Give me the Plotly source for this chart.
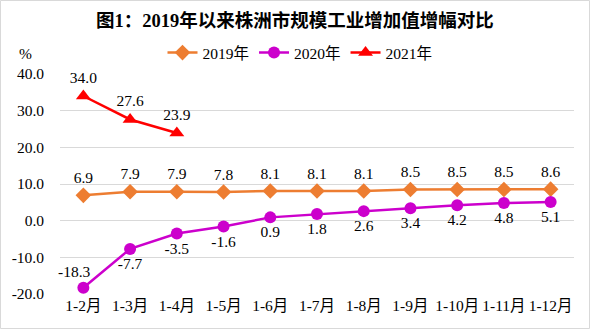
import plotly.graph_objects as go

categories = ["1-2月", "1-3月", "1-4月", "1-5月", "1-6月", "1-7月", "1-8月", "1-9月", "1-10月", "1-11月", "1-12月"]
y2019 = [6.9, 7.9, 7.9, 7.8, 8.1, 8.1, 8.1, 8.5, 8.5, 8.5, 8.6]
y2020 = [-18.3, -7.7, -3.5, -1.6, 0.9, 1.8, 2.6, 3.4, 4.2, 4.8, 5.1]
y2021 = [34.0, 27.6, 23.9]
yticks = [-20, -10, 0, 10, 20, 30, 40]

W, H = 590, 329
ML, MR, MT, MB = 60, 16, 74, 35
pw = W - ML - MR
ph = H - MT - MB

serif = "Liberation Serif, Noto Sans CJK SC, serif"
FS = 15.5
lbl_font = dict(family=serif, size=FS, color="#000000")

fig = go.Figure()
fig.add_trace(go.Scatter(
    x=categories, y=y2019, name="2019年", mode="lines+markers+text",
    line=dict(color="#ED7D31", width=2.5),
    marker=dict(symbol="diamond", size=12, color="#ED7D31"),
    text=[f"{v:.1f}" for v in y2019], textposition="top center",
    textfont=lbl_font, cliponaxis=False))
fig.add_trace(go.Scatter(
    x=categories, y=y2020, name="2020年", mode="lines+markers+text",
    line=dict(color="#CC00CC", width=2.5),
    marker=dict(symbol="circle", size=12, color="#CC00CC"),
    text=[""] + [f"{v:.1f}" for v in y2020[1:]],
    textposition="bottom center",
    textfont=lbl_font, cliponaxis=False))
fig.add_trace(go.Scatter(
    x=categories[:len(y2021)], y=y2021, name="2021年", mode="lines+markers+text",
    line=dict(color="#FF0000", width=2.5),
    marker=dict(symbol="triangle-up", size=13, color="#FF0000"),
    text=[f"{v:.1f}" for v in y2021], textposition="top center",
    textfont=lbl_font, cliponaxis=False))

# first 2020 label sits up-left of its marker
fig.add_annotation(x=categories[0], y=y2020[0], text=f"{y2020[0]:.1f}",
                   showarrow=False, xshift=-9, yshift=16,
                   font=lbl_font)

fig.update_layout(
    width=W, height=H,
    margin=dict(l=ML, r=MR, t=MT, b=MB, autoexpand=False),
    paper_bgcolor="white", plot_bgcolor="white",
    title=dict(text="<b>图1：2019年以来株洲市规模工业增加值增幅对比</b>",
               x=0.5, xanchor="center", y=1 - 21 / H, yanchor="middle",
               font=dict(family=serif, size=18.5, color="#000000")),
    legend=dict(orientation="h", x=(300 - ML) / pw, xanchor="center",
                y=1 + (MT - 53) / ph, yanchor="middle",
                font=dict(family=serif, size=FS, color="#000000"),
                itemwidth=30, tracegroupgap=0, bgcolor="rgba(0,0,0,0)"),
    xaxis=dict(type="category", showgrid=False, showline=False, ticks="",
               tickfont=dict(family=serif, size=FS, color="#000000"),
               range=[-0.5, len(categories) - 0.5]),
    yaxis=dict(range=[-20, 40], tickvals=yticks,
               ticktext=[f"{v:.1f}" for v in yticks],
               showgrid=True, gridcolor="#D9D9D9", gridwidth=1,
               zeroline=True, zerolinecolor="#D9D9D9", zerolinewidth=1,
               showline=False, ticks="", ticklabelstandoff=15,
               tickfont=dict(family=serif, size=FS, color="#000000")),
    showlegend=True,
)

fig.add_annotation(text="%", xref="paper", yref="paper",
                   x=(25 - ML) / pw, y=1 + (MT - 53) / ph,
                   showarrow=False, xanchor="center", yanchor="middle",
                   font=dict(family=serif, size=FS, color="#000000"))

fig.add_shape(type="rect", xref="paper", yref="paper",
              x0=(0.5 - ML) / pw, x1=(W - 0.5 - ML) / pw,
              y0=-(MB - 0.5) / ph, y1=1 + (MT - 0.5) / ph,
              line=dict(color="#D9D9D9", width=1), fillcolor="rgba(0,0,0,0)",
              layer="below")

fig.write_html("out.html")
